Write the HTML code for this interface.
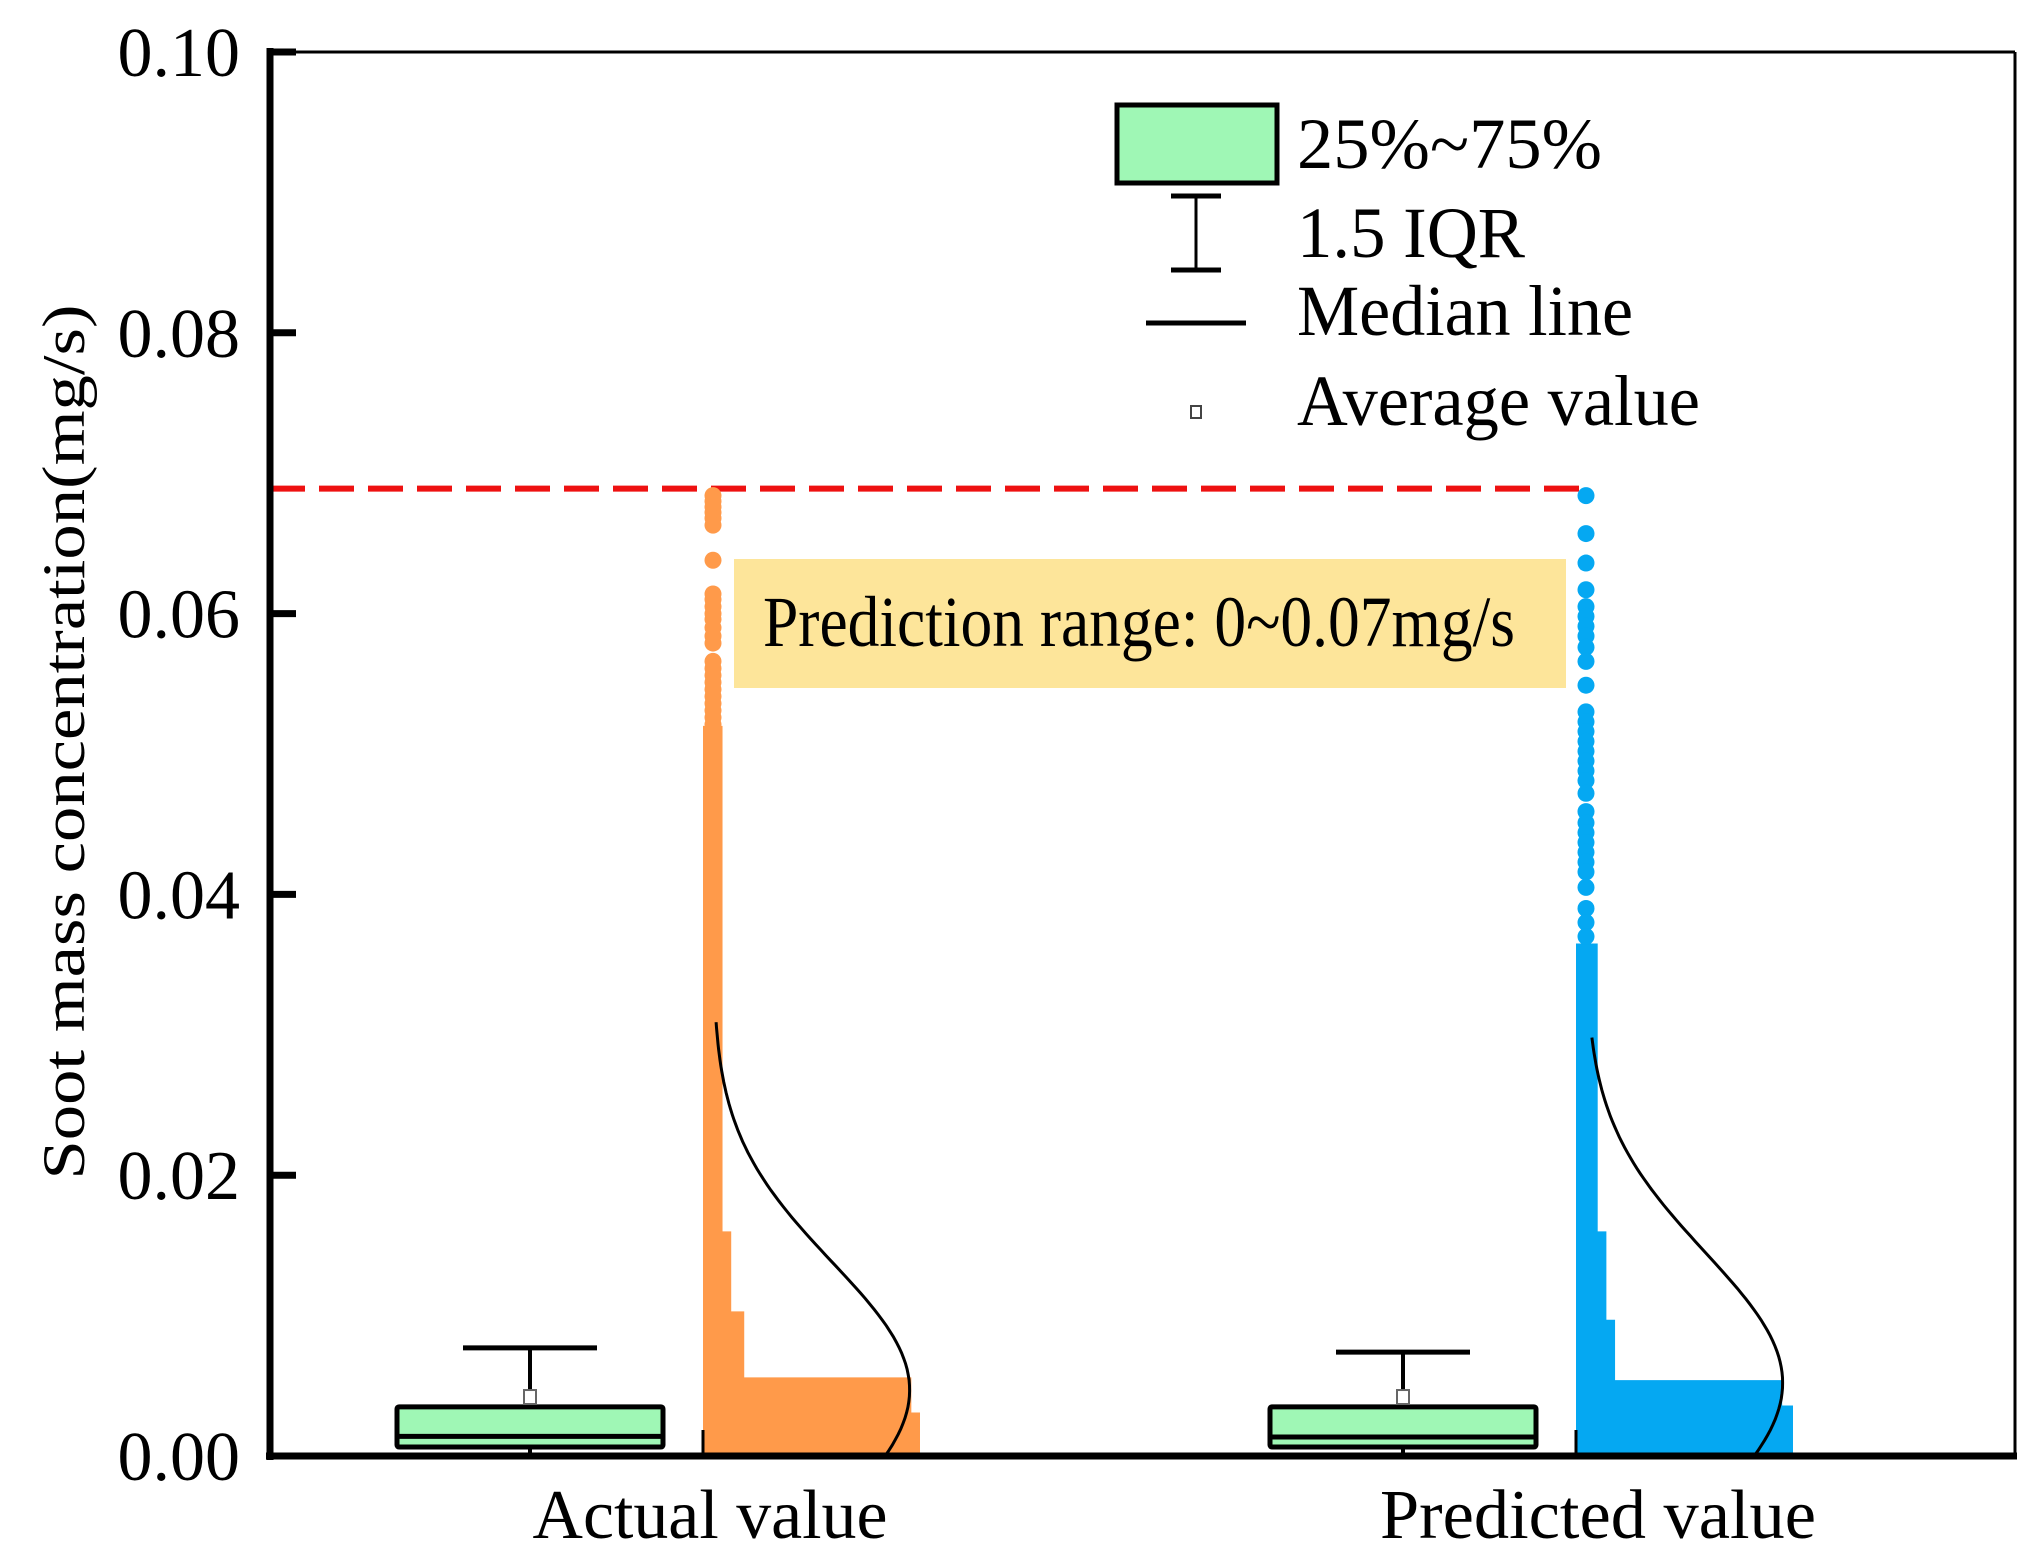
<!DOCTYPE html>
<html><head><meta charset="utf-8"><style>
html,body{margin:0;padding:0;background:#fff}
svg{display:block}
text{font-family:"Liberation Serif",serif;fill:#000}
</style></head><body>
<svg id="chart" width="2038" height="1563" viewBox="0 0 2038 1563" xmlns="http://www.w3.org/2000/svg">
<g id="plot"></g>
</svg>
<script>
// ---- data ----
const categories = ["Actual value", "Predicted value"];
const yTicks = [0, 0.02, 0.04, 0.06, 0.08, 0.10];
const yTickLabels = ["0.00", "0.02", "0.04", "0.06", "0.08", "0.10"];
const q1 = [0.00064, 0.00064];
const q3 = [0.0035, 0.0035];
const medians = [0.0014, 0.00135];
const whiskerHigh = [0.0077, 0.0074];
const means = [0.0042, 0.0042];
const predictionMax = 0.0689;
// sparse scatter points above dense column
const actualDots = [0.0684, 0.0680, 0.0676, 0.0672, 0.0668, 0.0663, 0.0638, 0.0614, 0.0610, 0.0605, 0.0600, 0.0596, 0.0590, 0.0584, 0.0579, 0.0566, 0.0561, 0.0556, 0.0551, 0.0546, 0.0541, 0.0536, 0.0531, 0.0526, 0.0521];
const predictedDots = [0.0684, 0.0657, 0.0636, 0.0617, 0.0605, 0.0598, 0.0591, 0.0584, 0.0576, 0.0566, 0.0549, 0.0530, 0.0523, 0.0516, 0.0509, 0.0502, 0.0495, 0.0488, 0.0481, 0.0472, 0.0459, 0.0451, 0.0444, 0.0437, 0.0430, 0.0423, 0.0416, 0.0405, 0.0390, 0.0380, 0.0370];
// dense column profile: value levels and spread (fraction of half-violin width)
const actualDenseTop = [0.0520, 0.0160, 0.0103, 0.0056, 0.0031];
const actualDenseSpread = [0.09, 0.13, 0.19, 0.96, 1.0];
const predictedDenseTop = [0.0365, 0.0160, 0.0097, 0.0054, 0.0036];
const predictedDenseSpread = [0.10, 0.14, 0.18, 0.95, 1.0];
// density curves (fitted normal)
const kdeMean = [0.0047, 0.0052];
const kdeSd = [0.0091, 0.0093];
const kdeTop = [0.0309, 0.0298];
const kdePeak = [0.95, 0.95];

// ---- layout / scales ----
const X0 = 270, X1 = 2015, Y0 = 1456, Y1 = 52;
const catX = [530, 1403];
const boxHalf = 133;
const scatOff = 173;
const violinW = 217;
function y(v){ return Y0 - (v/0.10)*(Y0-Y1); }
const NS = "http://www.w3.org/2000/svg";
const plot = document.getElementById('plot');
function mk(tag, attrs, parent){ const e=document.createElementNS(NS,tag); for(const k in attrs) e.setAttribute(k, attrs[k]); (parent||plot).appendChild(e); return e; }

// red dashed prediction line
const red = mk('line',{x1:X0,x2:catX[1]+scatOff+11,y1:y(predictionMax),y2:y(predictionMax),stroke:'#ee1111','stroke-width':6,'stroke-dasharray':'35 14'});



// yellow annotation
const ann = mk('rect',{x:734,y:559,width:832,height:129,fill:'#fde59a'});


const annT = mk('text',{x:763,y:646,'font-size':72,textLength:752,lengthAdjust:'spacingAndGlyphs'});
annT.textContent = 'Prediction range: 0~0.07mg/s';



const colors = ['#ff9a4a', '#05a8f2'];
const dotsAll = [actualDots, predictedDots];
const denseTops = [actualDenseTop, predictedDenseTop];
const denseSpreads = [actualDenseSpread, predictedDenseSpread];

for (let i=0;i<2;i++){
  const cx = catX[i];
  const g = mk('g',{});
  
  
  const base = cx + scatOff;
  const tops = denseTops[i], sp = denseSpreads[i];
  let pts = [[base, Y0], [base, y(tops[0])], [base + sp[0]*violinW, y(tops[0])]];
  for (let k=1;k<tops.length;k++){
    pts.push([base + sp[k-1]*violinW, y(tops[k])]);
    pts.push([base + sp[k]*violinW, y(tops[k])]);
  }
  pts.push([base + sp[sp.length-1]*violinW, Y0]);
  const dense = mk('polygon',{points:pts.map(p=>p.join(',')).join(' '),fill:colors[i]},g);
  
  
  for (const v of dotsAll[i]){
    const d = mk('circle',{cx:base+10,cy:y(v),r:8.5,fill:colors[i]},g);
    
    
  }
  const bt = mk('line',{x1:base,x2:base,y1:Y0-26,y2:Y0,stroke:'#000','stroke-width':3},g);
  
  
  let dpath = '';
  const steps = 80;
  for (let s=0;s<=steps;s++){
    const v = kdeTop[i]*(1 - s/steps);
    const r = Math.exp(-Math.pow(v-kdeMean[i],2)/(2*kdeSd[i]*kdeSd[i]));
    const xx = base + 10 + r*kdePeak[i]*(violinW-10);
    dpath += (s?'L':'M') + xx.toFixed(1) + ',' + y(v).toFixed(1);
  }
  const curve = mk('path',{d:dpath,fill:'none',stroke:'#000','stroke-width':3},g);
  
  

  const bg = mk('g',{},g);
  
  
  mk('line',{x1:cx,x2:cx,y1:y(whiskerHigh[i]),y2:y(q3[i]),stroke:'#000','stroke-width':4},bg);
  mk('line',{x1:cx,x2:cx,y1:y(q1[i]),y2:Y0,stroke:'#000','stroke-width':4},bg);
  mk('line',{x1:cx-67,x2:cx+67,y1:y(whiskerHigh[i]),y2:y(whiskerHigh[i]),stroke:'#000','stroke-width':5},bg);
  mk('rect',{x:cx-boxHalf,y:y(q3[i]),width:2*boxHalf,height:y(q1[i])-y(q3[i]),fill:'#9ff7b5',stroke:'#000','stroke-width':5,rx:2},bg);
  mk('line',{x1:cx-boxHalf,x2:cx+boxHalf,y1:y(medians[i]),y2:y(medians[i]),stroke:'#000','stroke-width':5},bg);
  mk('rect',{x:cx-6,y:y(means[i])-7,width:12,height:14,fill:'#fff',stroke:'#666','stroke-width':2},bg);
}

// axes
const ax = mk('g',{});


mk('line',{x1:X0,x2:X1,y1:Y1,y2:Y1,stroke:'#000','stroke-width':3},ax);
mk('line',{x1:X1,x2:X1,y1:Y1,y2:Y0,stroke:'#000','stroke-width':3},ax);
mk('line',{x1:X0,x2:X0,y1:Y1-4,y2:Y0+4,stroke:'#000','stroke-width':7},ax);
mk('line',{x1:X0-4,x2:X1+2,y1:Y0,y2:Y0,stroke:'#000','stroke-width':7},ax);
yTicks.forEach((v,k)=>{
  const t = mk('line',{x1:X0,x2:X0+26,y1:y(v),y2:y(v),stroke:'#000','stroke-width':7},ax);
  
  
  const lb = mk('text',{x:240,y:y(v)+24,'font-size':70,'text-anchor':'end'},ax);
  lb.textContent = yTickLabels[k];
  
  
});
const xlabelX = [710, 1598];
const xlabelW = [355, 436];
categories.forEach((c,k)=>{
  const t = mk('text',{x:xlabelX[k],y:1538,'font-size':70,'text-anchor':'middle',textLength:xlabelW[k],lengthAdjust:'spacingAndGlyphs'},ax);
  t.textContent = c;
  
  
});
const yt = mk('text',{x:0,y:0,'font-size':60,'text-anchor':'middle',transform:'translate(84,742) rotate(-90)',textLength:875,lengthAdjust:'spacingAndGlyphs'});
yt.textContent = 'Soot mass concentration(mg/s)';



// legend
const lg = mk('g',{});


const e1 = mk('g',{},lg);


mk('rect',{x:1117,y:105,width:160,height:78,fill:'#9ff7b5',stroke:'#000','stroke-width':5},e1);
const t1 = mk('text',{x:1297,y:168,'font-size':72,textLength:305,lengthAdjust:'spacingAndGlyphs'},e1); t1.textContent='25%~75%';
const e2 = mk('g',{},lg);


mk('line',{x1:1196,x2:1196,y1:196,y2:270,stroke:'#000','stroke-width':3},e2);
mk('line',{x1:1171,x2:1221,y1:196,y2:196,stroke:'#000','stroke-width':5},e2);
mk('line',{x1:1171,x2:1221,y1:270,y2:270,stroke:'#000','stroke-width':5},e2);
const t2 = mk('text',{x:1297,y:257,'font-size':72,textLength:228,lengthAdjust:'spacingAndGlyphs'},e2); t2.textContent='1.5 IQR';
const e3 = mk('g',{},lg);


mk('line',{x1:1146,x2:1246,y1:323,y2:323,stroke:'#000','stroke-width':5},e3);
const t3 = mk('text',{x:1297,y:335,'font-size':72,textLength:336,lengthAdjust:'spacingAndGlyphs'},e3); t3.textContent='Median line';
const e4 = mk('g',{},lg);


mk('rect',{x:1191,y:406,width:10,height:12,fill:'#fff',stroke:'#444','stroke-width':2},e4);
const t4 = mk('text',{x:1297,y:425,'font-size':72,textLength:403,lengthAdjust:'spacingAndGlyphs'},e4); t4.textContent='Average value';
</script>
</body></html>
